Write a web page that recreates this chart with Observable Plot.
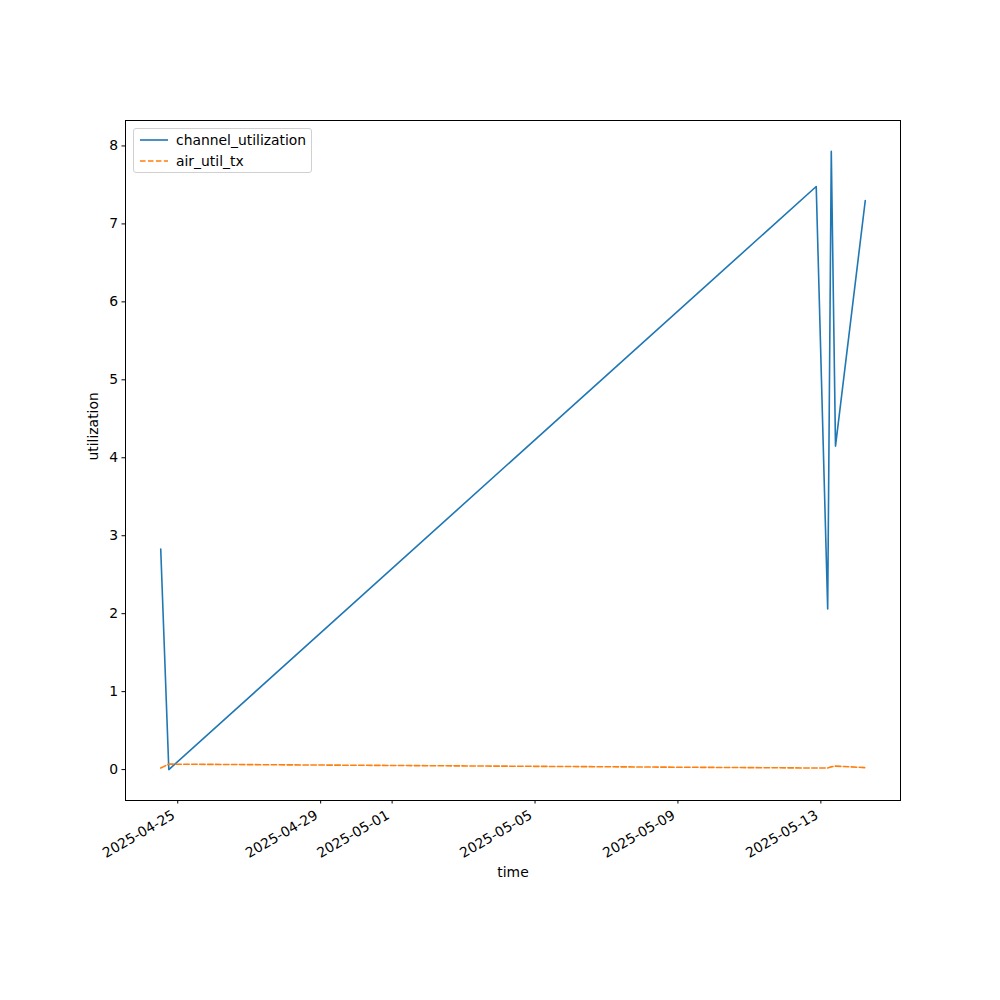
<!DOCTYPE html>
<html>
<head>
<meta charset="utf-8">
<script src="https://cdn.jsdelivr.net/npm/d3@7"></script>
<script src="https://cdn.jsdelivr.net/npm/@observablehq/plot@0.6"></script>
<style>
  body { margin: 0; background: #fff; }
  #wrap { position: relative; width: 1000px; height: 1000px; font-family: "DejaVu Sans", sans-serif; }
  #legend { position: absolute; left: 133px; top: 128px; width: 177px; height: 43px; border: 1px solid #d0d0d0; border-radius: 3px; background: rgba(255,255,255,0.8); font-size: 13.9px; color: #000; }
  #legend .row { position: absolute; left: 0; height: 20px; display: flex; align-items: center; }
  #legend svg { margin-left: 6px; margin-right: 8px; }
</style>
</head>
<body>
<div id="wrap"><div id="legend"></div></div>
<script>
const times = ["2025-04-24T12:34Z", "2025-04-24T18:00Z", "2025-05-12T20:53Z", "2025-05-13T04:35Z", "2025-05-13T07:00Z", "2025-05-13T09:50Z", "2025-05-14T05:50Z"];
const channelUtilization = [2.83, 0.0, 7.48, 2.06, 7.93, 4.15, 7.30];
const airUtilTx = [0.02, 0.07, 0.02, 0.02, 0.035, 0.045, 0.025];
const xTicks = ["2025-04-25", "2025-04-29", "2025-05-01", "2025-05-05", "2025-05-09", "2025-05-13"];
const yTicks = [0, 1, 2, 3, 4, 5, 6, 7, 8];
const seriesNames = ["channel_utilization", "air_util_tx"];
const seriesColors = ["#1f77b4", "#ff7f0e"];

const parse = d3.isoParse;
const rows = [];
times.forEach((t, i) => {
  rows.push({time: parse(t), value: channelUtilization[i], series: seriesNames[0]});
});
times.forEach((t, i) => {
  rows.push({time: parse(t), value: airUtilTx[i], series: seriesNames[1]});
});

// matplotlib-style 5% margins
const tExt = d3.extent(times.map(parse));
const span = tExt[1] - tExt[0];
const xDomain = [new Date(+tExt[0] - 0.05 * span), new Date(+tExt[1] + 0.05 * span)];
const allVals = channelUtilization.concat(airUtilTx);
const vMin = d3.min(allVals), vMax = d3.max(allVals);
const vSpan = vMax - vMin;
const yDomain = [vMin - 0.05 * vSpan, vMax + 0.05 * vSpan];

const chart = Plot.plot({
  width: 1000,
  height: 1000,
  marginLeft: 125,
  marginRight: 100,
  marginTop: 120,
  marginBottom: 200,
  style: {fontFamily: "DejaVu Sans, sans-serif", fontSize: "13.9px", color: "#000", background: "#fff"},
  x: {type: "utc", domain: xDomain},
  y: {domain: yDomain},
  marks: [
    Plot.frame({stroke: "#000", strokeWidth: 1}),
    Plot.axisX({ticks: xTicks.map(d => parse(d)), tickFormat: d3.utcFormat("%Y-%m-%d"), tickSize: 0, tickPadding: 13.5, tickRotate: -30, dx: -4, label: null, fontSize: 13.9}),
    Plot.axisX({ticks: xTicks.map(d => parse(d)), tickSize: 3.5, tickFormat: () => "", label: null}),
    Plot.axisY({ticks: yTicks, tickSize: 3.5, tickPadding: 4, label: null, fontSize: 13.9}),
    Plot.line(rows.filter(d => d.series === seriesNames[0]), {x: "time", y: "value", stroke: seriesColors[0], strokeWidth: 1.6, strokeLinejoin: "round"}),
    Plot.line(rows.filter(d => d.series === seriesNames[1]), {x: "time", y: "value", stroke: seriesColors[1], strokeWidth: 1.6, strokeDasharray: "5.55,2.4"}),
    Plot.text(["time"], {frameAnchor: "bottom", dy: 76, fontSize: 13.9}),
    Plot.text(["utilization"], {frameAnchor: "left", dx: -32, rotate: -90, fontSize: 13.9})
  ]
});
document.getElementById("wrap").prepend(chart);

const legend = document.getElementById("legend");
seriesNames.forEach((name, i) => {
  const row = document.createElement("div");
  row.className = "row";
  row.style.top = (1 + i * 21) + "px";
  const dash = i === 1 ? 'stroke-dasharray="5.55,2.4"' : '';
  row.innerHTML = `<svg width="28" height="10"><line x1="0" y1="5" x2="28" y2="5" stroke="${seriesColors[i]}" stroke-width="1.6" ${dash}/></svg><span>${name}</span>`;
  legend.appendChild(row);
});
</script>
</body>
</html>
